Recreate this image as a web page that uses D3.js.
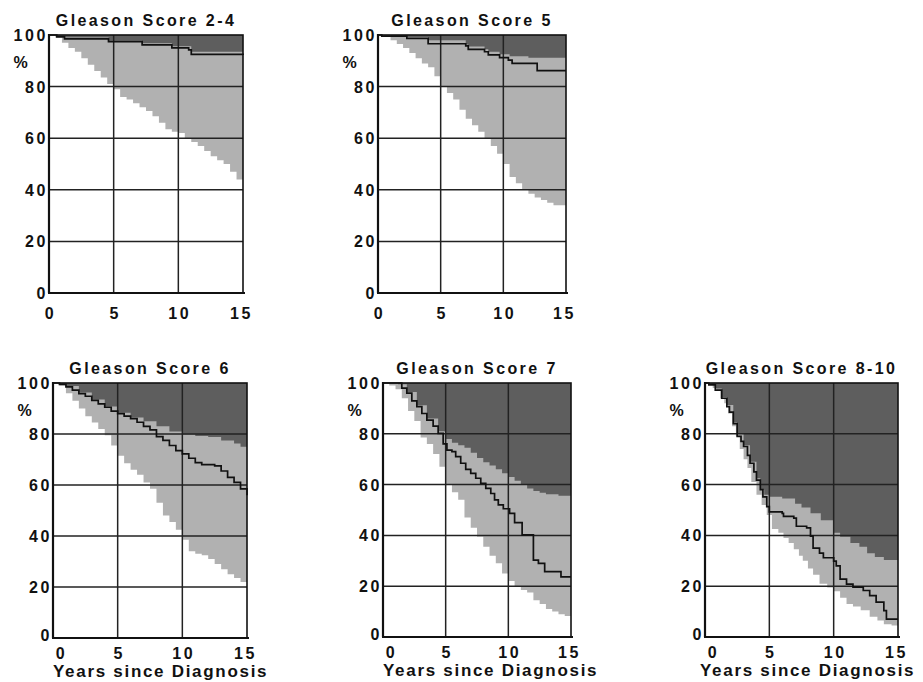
<!DOCTYPE html>
<html lang="en">
<head>
<meta charset="UTF-8">
<title>Gleason Score survival</title>
<script src="https://d3js.org/d3.v7.min.js"></script>
<style>
  body { margin: 0; background: #fff; }
  svg { display: block; }
  text { font-family: "Liberation Sans", Arial, sans-serif; font-weight: bold; fill: #111; }
  .title { font-size: 16px; letter-spacing: 2.4px; text-anchor: middle; }
  .tick-label { font-size: 16px; letter-spacing: 2.6px; }
  .xlab { font-size: 17px; letter-spacing: 1.7px; }
  .grid { stroke: #222; stroke-width: 1.5; }
  .frame { fill: none; stroke: #111; stroke-width: 1.6; }
  .surv { fill: none; stroke: #111; stroke-width: 1.7; }
</style>
</head>
<body>
<svg width="923" height="682"></svg>
<script>
// values: [years, percent]
const titles = ["Gleason Score 2-4", "Gleason Score 5", "Gleason Score 6", "Gleason Score 7", "Gleason Score 8-10"];
const yTicks = [0, 20, 40, 60, 80, 100];
const xTicks = [0, 5, 10, 15];

const g24Lower = [[0,100],[0.5,99],[1,97],[1.5,95],[2,93.5],[2.5,91],[3,88.5],[3.5,86],[4,83.5],[4.5,81],[5,79],[5.5,76],[6,75],[6.5,73.5],[7,72],[7.5,70.5],[8,68.5],[8.5,66],[9,63.5],[9.5,62.5],[10,62],[10.5,60],[11,58.5],[11.5,57],[12,55],[12.5,53],[13,51.5],[13.5,50],[14,47],[14.5,44],[15,44]];
const g24Upper = [[0,100],[0.6,99.6],[1.2,99],[4.6,97.8],[7.2,96.8],[9.5,95.6],[11,93.5],[15,93.5]];
const g24Line  = [[0,100],[0.6,99.3],[1.2,98.5],[4.6,97.4],[7.2,96.2],[9.5,95],[10.8,94.2],[11,92.5],[15,92.2]];

const g5Lower = [[0,100],[0.5,99.5],[1,98],[1.5,96.5],[2,95],[2.5,93],[3,91],[3.5,89],[4,87.5],[4.5,84],[5,80],[5.5,77.5],[6,75],[6.5,71],[7,67.5],[7.5,65],[8,62.5],[8.5,60],[9,57],[9.5,54],[10,50],[10.5,45],[11,42.5],[11.5,40],[12,38.5],[12.5,37],[13,36],[13.5,35],[14,34],[15,34]];
const g5Upper = [[0,100],[1,99.6],[2.3,99.2],[4,98],[7,96.3],[7.2,95.5],[8.5,94.5],[8.8,93.5],[9.7,92.5],[10.5,91.8],[12,91.2],[15,91]];
const g5Line  = [[0,100],[0.3,99.6],[2.3,98.7],[4,96.6],[7,95.8],[7.2,94.4],[8.5,93.5],[8.8,92.3],[9.7,91.2],[10.4,90.3],[10.7,89],[12.7,86.2],[15,86.2]];

const g6Lower = [[0,100],[0.5,99],[1,96],[1.5,93],[2,90],[2.5,87],[3,84.5],[3.5,82],[4,79.5],[4.5,75.5],[5,71.5],[5.5,68.5],[6,66],[6.5,64],[7,61],[7.5,58.5],[8,53],[8.5,48],[9,45.5],[9.5,42.5],[10,38.5],[10.5,34],[11,33],[11.5,32.5],[12,31],[12.5,29],[13,27],[13.5,25],[14,23.5],[14.5,22],[15,21]];
const g6Upper = [[0,100],[0.5,99.6],[1,98.8],[2,96.3],[3,93.5],[4,90.8],[5,88.3],[6,86.5],[7,85],[8,83],[9,81],[10,79.8],[11,79.2],[12,78.8],[13,77.5],[14,76.3],[14.5,75],[15,74.4]];
const g6Line  = [[0,100],[0.5,99.5],[1,98.5],[1.5,97.2],[2,95.8],[2.5,94.8],[3,93.2],[3.5,91.8],[4,90.5],[4.5,89],[5,88],[5.5,87],[6,86],[6.5,84.6],[7,83],[7.5,81.6],[8,79],[8.5,77.5],[9,75.5],[9.5,73.5],[10,72.2],[10.5,70.5],[11,68.8],[11.5,68],[12,68],[12.5,67.5],[13,65.5],[13.5,63],[14,61],[14.5,58.5],[15,56]];

const g7Lower = [[0,100],[0.5,99],[1,97.5],[1.5,94],[2,89],[2.5,85],[3,78.5],[3.5,76],[4,72],[4.5,67],[5,60],[5.5,57],[6,54],[6.5,47],[7,43],[7.5,39.5],[8,35.5],[8.5,32],[9,29],[9.5,25],[10,22],[10.5,20],[11,18.5],[11.5,17.5],[12,14.5],[12.5,13],[13,11],[13.5,10],[14,9],[14.5,8.3],[15,8]];
const g7Upper = [[0,100],[1.2,99.5],[1.9,96.5],[2.7,91.2],[3.5,86],[4.4,81],[5,78],[5.5,76.5],[6,75.5],[6.5,74.5],[7,72.5],[7.5,70.5],[8,68.8],[8.5,67.5],[9,66],[9.5,64.5],[10,63],[10.5,61.5],[11,60],[11.5,58.5],[12,57.5],[12.5,56.8],[13,56.2],[14,55.6],[15,55]];
const g7Line  = [[0,100],[1.2,100],[1.5,98],[1.9,96],[2.3,93],[2.7,90.7],[3.1,88],[3.5,85.4],[4,83],[4.4,80.2],[4.8,76],[5.1,73.6],[5.5,73],[5.8,71],[6.2,68.4],[6.6,66],[7,64.4],[7.4,62.5],[7.8,60.5],[8.2,58.5],[8.6,56.5],[8.9,54],[9.2,52],[9.6,50.5],[10.1,48.7],[10.5,45],[11.1,40.2],[12,30.3],[12.4,29],[12.9,25.7],[14.2,23.7],[15,23.7]];

const g810Lower = [[0,100],[0.3,99.5],[0.6,98],[0.9,97],[1.2,94],[1.5,92],[1.8,88],[2.1,83],[2.4,79],[2.7,74],[3,70],[3.3,66.5],[3.6,61],[4,56],[4.4,52],[4.8,48],[5.2,42.5],[5.7,41],[6.1,39],[6.5,37],[6.9,34.5],[7.3,32],[7.6,30],[8,27],[8.4,24.5],[8.9,21],[9.5,19.5],[10,18],[10.5,15.5],[11,13],[11.5,12],[12.1,10.5],[12.8,8],[13.4,6.5],[13.9,5],[14.5,4.5],[15,4]];
const g810Upper = [[0,100],[0.3,99.5],[0.8,97.8],[1.3,94.5],[1.7,91.3],[2.2,84.5],[2.5,80],[3,75.5],[3.5,69],[4,62.5],[4.3,58],[4.6,56],[5,55.2],[6,54.5],[7,52.5],[7.5,51],[8.2,48.7],[9,46],[10,41],[10.5,39.5],[11.3,37],[12,35.5],[12.6,33],[13.2,31.5],[13.9,30.3],[15,29.7]];
const g810Line  = [[0,100],[0.3,99.3],[0.8,97.2],[1.3,94],[1.7,90.7],[1.9,88.5],[2.2,84],[2.5,79],[2.8,77],[3,75],[3.3,71.5],[3.5,68.4],[3.8,65],[4,61.8],[4.3,58],[4.5,55.2],[4.8,51.3],[5,49.3],[6,48.7],[6.1,47.5],[6.9,46.8],[7.1,43.6],[7.9,43],[8.2,39.7],[8.4,35],[8.9,33],[9.2,31.2],[10,29.9],[10.2,28],[10.5,22.8],[11,20.8],[11.5,19.6],[12.3,18.3],[12.8,16.3],[13.3,13.7],[13.9,10.4],[14.1,7],[15,7]];

// panel boxes (layout only)
const panels = [
  { title: titles[0], lower: g24Lower,  upper: g24Upper,  line: g24Line,  left: 49,  top: 35,  w: 194, h: 258, row: 0 },
  { title: titles[1], lower: g5Lower,   upper: g5Upper,   line: g5Line,   left: 378, top: 35,  w: 188, h: 258, row: 0 },
  { title: titles[2], lower: g6Lower,   upper: g6Upper,   line: g6Line,   left: 53,  top: 383, w: 194, h: 255, row: 1 },
  { title: titles[3], lower: g7Lower,   upper: g7Upper,   line: g7Line,   left: 383, top: 383, w: 188, h: 254, row: 1 },
  { title: titles[4], lower: g810Lower, upper: g810Upper, line: g810Line, left: 705, top: 383, w: 193, h: 254, row: 1 }
];

const svg = d3.select("svg");

panels.forEach((p, i) => {
  const x = d3.scaleLinear().domain([0, 15]).range([0, p.w]);
  const y = d3.scaleLinear().domain([0, 100]).range([p.h, 0]);
  const g = svg.append("g").attr("transform", `translate(${p.left},${p.top})`);

  const band = d3.area().curve(d3.curveStepAfter)
      .x(d => x(d[0])).y0(y(100)).y1(d => y(d[1]));

  // light band = everything above the lower curve, dark band = above the upper curve
  g.append("path").datum(p.lower).attr("d", band).attr("fill", "#b1b1b1");
  g.append("path").datum(p.upper).attr("d", band).attr("fill", "#5e5e5e");

  // grid
  g.selectAll(".hgrid").data(yTicks.slice(1, -1)).enter()
    .append("line").attr("class", "grid")
    .attr("x1", 0).attr("x2", p.w)
    .attr("y1", d => y(d)).attr("y2", d => y(d));
  g.selectAll(".vgrid").data(xTicks.slice(1, -1)).enter()
    .append("line").attr("class", "grid")
    .attr("x1", d => x(d)).attr("x2", d => x(d))
    .attr("y1", 0).attr("y2", p.h);

  g.append("path").datum(p.line).attr("class", "surv")
    .attr("d", d3.line().curve(d3.curveStepAfter).x(d => x(d[0])).y(d => y(d[1])));

  g.append("rect").attr("class", "frame").attr("width", p.w).attr("height", p.h);
  g.append("line").attr("x1", -1).attr("x2", p.w + 2).attr("y1", p.h).attr("y2", p.h)
    .attr("stroke", "#111").attr("stroke-width", 2.2);
  g.append("line").attr("x1", 0).attr("x2", 0).attr("y1", -1).attr("y2", p.h)
    .attr("stroke", "#111").attr("stroke-width", 2.2);

  // y labels
  g.selectAll(".ylab").data(yTicks).enter()
    .append("text").attr("class", "tick-label")
    .attr("text-anchor", "end")
    .attr("x", -1)
    .attr("y", d => y(d) + 6 - (p.row === 1 && d === 0 ? 3 : 0))
    .text(d => d);
  g.append("text").attr("class", "tick-label")
    .attr("text-anchor", "middle").attr("x", -27).attr("y", 33).text("%");

  // x labels
  const xOff = p.row === 0 ? 26 : 21;
  g.selectAll(".xl").data(xTicks).enter()
    .append("text").attr("class", "tick-label")
    .attr("text-anchor", "middle")
    .attr("x", d => x(d) + 1.5 + (p.row === 1 && d === 0 ? 7 : 0) - (d === 15 ? 3 : 0))
    .attr("y", p.h + xOff)
    .text(d => d);

  g.append("text").attr("class", "title")
    .attr("x", p.w / 2).attr("y", -9).text(p.title);

  if (p.row === 1) {
    g.append("text").attr("class", "xlab")
      .attr("x", i === 4 ? -5 : 0).attr("y", p.h + 39).text("Years since Diagnosis");
  }
});
</script>
</body>
</html>
